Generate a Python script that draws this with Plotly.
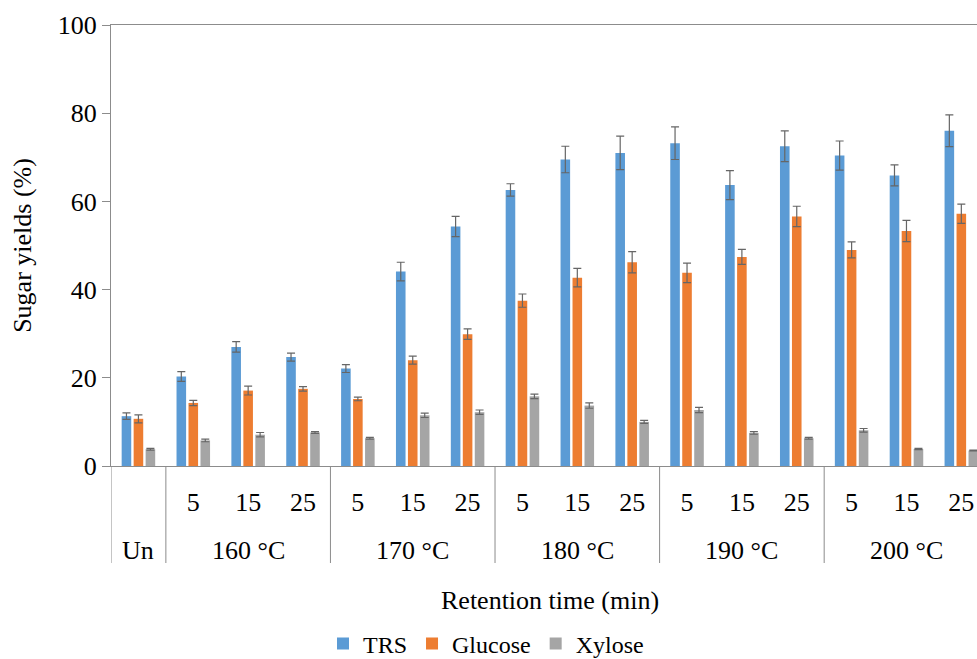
import plotly.graph_objects as go

# ---- data ----
groups = ["Un", "160 °C", "170 °C", "180 °C", "190 °C", "200 °C"]
group_times = [[""], ["5", "15", "25"], ["5", "15", "25"], ["5", "15", "25"],
               ["5", "15", "25"], ["5", "15", "25"]]

trs = [11.3, 20.3, 27.0, 24.7, 22.1, 44.1, 54.3, 62.6, 69.5, 71.0, 73.2, 63.7, 72.5, 70.4, 65.9, 76.0]
trs_err = [0.75, 1.1, 1.2, 0.9, 0.9, 2.1, 2.3, 1.4, 3.0, 3.8, 3.7, 3.3, 3.5, 3.3, 2.4, 3.6]
glucose = [10.7, 14.3, 17.1, 17.5, 15.2, 24.0, 29.9, 37.5, 42.7, 46.2, 43.8, 47.4, 56.6, 49.0, 53.3, 57.2]
glucose_err = [0.9, 0.6, 1.0, 0.5, 0.4, 0.9, 1.2, 1.5, 2.1, 2.4, 2.2, 1.7, 2.3, 1.8, 2.4, 2.2]
xylose = [3.8, 5.8, 7.1, 7.6, 6.3, 11.5, 12.2, 15.8, 13.7, 10.0, 12.7, 7.5, 6.3, 8.1, 3.85, 3.5]
xylose_err = [0.2, 0.3, 0.5, 0.2, 0.2, 0.5, 0.5, 0.5, 0.6, 0.35, 0.6, 0.3, 0.2, 0.4, 0.15, 0.1]

series_names = ["TRS", "Glucose", "Xylose"]
series_vals = [trs, glucose, xylose]
series_errs = [trs_err, glucose_err, xylose_err]
colors = ["#5B9BD5", "#ED7D31", "#A5A5A5"]

# ---- build category positions ----
tick_text = []
group_bounds = []
idx = 0
for g, times in zip(groups, group_times):
    start = idx
    for t in times:
        tick_text.append(t)
        idx += 1
    group_bounds.append((start, idx - 1))
xpos = list(range(len(tick_text)))

FONT = "Liberation Serif, Times New Roman, serif"
FS = 26
AX = "#8c8c8c"

W, H = 977, 659
L, T = 111, 25
BOT = 466
plot_w = W - L
plot_h = BOT - T
slot_px = 54.86
x_max = -0.5 + plot_w / slot_px


def py(screen_y):
    return (BOT - screen_y) / plot_h


fig = go.Figure()
for name, vals, errs, c in zip(series_names, series_vals, series_errs, colors):
    fig.add_trace(go.Bar(
        x=xpos, y=vals, name=name,
        marker=dict(color=c, line=dict(width=0)),
        error_y=dict(type="data", array=errs, visible=True,
                     color="#666666", thickness=1.2, width=4),
    ))

shapes = []
annotations = []
for g, (s, e) in zip(groups, group_bounds):
    shapes.append(dict(type="line", xref="x", yref="paper", x0=s - 0.5, x1=s - 0.5,
                       y0=0, y1=py(563), line=dict(color=AX, width=1)))
    annotations.append(dict(x=(s + e) / 2, y=py(550), xref="x", yref="paper",
                            text=g, showarrow=False, yanchor="middle",
                            font=dict(family=FONT, size=FS, color="black")))

annotations.append(dict(x=(len(xpos) - 1) / 2, y=py(600), xref="x", yref="paper",
                        text="Retention time (min)", showarrow=False, yanchor="middle",
                        font=dict(family=FONT, size=FS, color="black")))

fig.update_layout(
    width=W, height=H,
    margin=dict(l=L, r=0, t=T, b=H - BOT, autoexpand=False),
    paper_bgcolor="white", plot_bgcolor="white",
    barmode="group", bargap=0.345, bargroupgap=0.2,
    font=dict(family=FONT, size=FS, color="black"),
    showlegend=True,
    legend=dict(orientation="h", x=(323 - L) / plot_w, xanchor="left",
                y=py(644), yanchor="middle",
                font=dict(family=FONT, size=24, color="black"),
                itemclick=False),
    shapes=shapes,
    annotations=annotations,
    xaxis=dict(range=[-0.5, x_max], tickmode="array", tickvals=xpos, ticktext=tick_text,
               showgrid=False, zeroline=False, showline=True, linecolor=AX, linewidth=1,
               mirror=True, ticks="", ticklabelstandoff=13, ticklabeloverflow="allow",
               tickfont=dict(family=FONT, size=FS, color="black")),
    yaxis=dict(range=[0, 100], dtick=20, showgrid=False, zeroline=False,
               showline=True, linecolor=AX, linewidth=1,
               ticks="outside", ticklen=8, tickcolor=AX,
               tickfont=dict(family=FONT, size=FS, color="black"),
               title=dict(text="Sugar yields (%)", standoff=18,
                          font=dict(family=FONT, size=FS, color="black"))),
)

fig.write_html("out.html",
               config={"displayModeBar": False},
               post_script="document.body.style.margin='0';document.body.style.overflow='hidden';")
